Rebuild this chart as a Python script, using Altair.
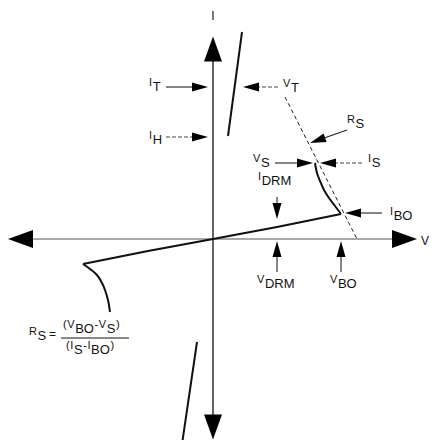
import altair as alt
import pandas as pd
import numpy as np

# ---------------- diagram data (V on x, I on y; origin = axes crossing) ----------------
# blocking characteristic through the origin (1st and 3rd quadrant)
block_v = [-130, -65, 0, 64, 128]
block_i = [-25, -12, 0, 12, 25]
# negative-resistance region after breakover, 1st quadrant
negres1_v = [128, 122, 116, 111, 107, 104, 102]
negres1_i = [25, 33, 41, 49, 58, 66, 76]
# negative-resistance region, 3rd quadrant
negres3_v = [-130, -123, -116, -111, -108, -105, -103]
negres3_i = [-25, -30, -36, -44, -51, -61, -73]
# on-state lines
on1_v = [15, 29]
on1_i = [103, 207]
on3_v = [-16, -32]
on3_i = [-103, -212]
# switching resistance RS line (dashed)
rs_v = [72, 144]
rs_i = [142, 0]

# axes extents
haxis_v = [-185, 182]
vaxis_i = [-182, 182]
# axis arrowheads (centre v, centre i, direction angle)
axhead_v = [191.5, -192.5, 0, 0]
axhead_i = [0, 0, 190, -188]
axhead_ang = [0, 180, 270, 90]

# annotation arrows: tail -> tip
ann_names = ["IT", "IH", "VT", "RS", "VS", "IS", "IDRM", "IBO", "VDRM", "VBO"]
ann_tail_v = [-47, -47, 65, 134, 62, 149, 64, 169, 64, 128]
ann_tail_i = [152, 102, 152, 109, 76, 76, 42, 26, -33, -33]
ann_tip_v = [-5, -5, 30, 97, 100, 107, 64, 132, 64, 128]
ann_tip_i = [152, 102, 152, 96, 76, 76, 20, 26, -2, -2]
ann_dashed = [0, 1, 1, 0, 0, 1, 0, 0, 0, 0]

# labels: main letter, subscript, left x, subscript baseline
lab_main = ["I", "I", "V", "R", "V", "I", "I", "I", "V", "V"]
lab_sub = ["T", "H", "T", "S", "S", "S", "DRM", "BO", "DRM", "BO"]
lab_x = [-64, -64, 70, 134, 40, 155, 45, 177, 44, 117]
lab_y = [148, 95, 147, 111, 72, 72, 54, 19, -49, -49]

# ---------------- helpers ----------------
FM, FS, RAISE = 11, 13, 5.5
CW = {"(": 333, ")": 333, "-": 333, "=": 584, "V": 667, "B": 667, "O": 778,
      "S": 667, "I": 278, "R": 722, "T": 611, "H": 722, "D": 722, "M": 833}


def tw(t, fs):
    return sum(CW[c] for c in t) * fs / 1000.0


text_rows = []


def place(segs, x0, base):
    x = x0
    for t, lvl in segs:
        fs = FM if lvl == "m" else FS
        y = base + (RAISE if lvl == "m" else 0)
        text_rows.append(dict(x=x, y=y, t=t, fs=fs, al="left"))
        x += tw(t, fs) + 0.6
    return x


for m, s, x0, b in zip(lab_main, lab_sub, lab_x, lab_y):
    place([(m, "m"), (s, "s")], x0, b)

# formula  RS = (VBO-VS)/(IS-IBO)
place([("R", "m"), ("S", "s")], -184, -101)
text_rows.append(dict(x=-164, y=-99, t="=", fs=12, al="left"))
place([("(", "m"), ("V", "m"), ("BO", "s"), ("-", "m"), ("V", "m"), ("S", "s"), (")", "m")], -150, -94)
place([("(", "m"), ("I", "m"), ("S", "s"), ("-", "m"), ("I", "m"), ("BO", "s"), (")", "m")], -147, -115)
frac_v = [-152, -84]
frac_i = -99

# axis names
text_rows.append(dict(x=0, y=219, t="I", fs=12, al="center"))
text_rows.append(dict(x=208, y=-6, t="V", fs=12, al="left"))

# ---------------- scales ----------------
W, H = 422, 432
xs = alt.Scale(domain=[-205, 217], nice=False, zero=False)
ys = alt.Scale(domain=[-201, 231], nice=False, zero=False)

# axes lines
ax_df = pd.DataFrame([
    dict(x=haxis_v[0], x2=haxis_v[1], y=0, y2=0, c="#8c8c8c", w=1.5),
    dict(x=0, x2=0, y=vaxis_i[0], y2=vaxis_i[1], c="#222222", w=1.4),
])
axes = alt.Chart(ax_df).mark_rule().encode(
    x=alt.X("x:Q", scale=xs, axis=None), x2="x2:Q",
    y=alt.Y("y:Q", scale=ys, axis=None), y2="y2:Q",
    color=alt.Color("c:N", scale=None), strokeWidth=alt.StrokeWidth("w:Q", scale=None))

axh_df = pd.DataFrame(dict(x=axhead_v, y=axhead_i, a=axhead_ang))
axheads = alt.Chart(axh_df).mark_point(
    shape="M-1,-0.72L1,0L-1,0.72Z", size=625, filled=True, color="#000", opacity=1, strokeWidth=0
).encode(x=alt.X("x:Q", scale=xs, axis=None), y=alt.Y("y:Q", scale=ys, axis=None),
         angle=alt.Angle("a:Q", scale=None))


def curve_df(items):
    rows = []
    for name, vv, ii, sw in items:
        for k, (v, i) in enumerate(zip(vv, ii)):
            rows.append(dict(seg=name, o=k, v=v, i=i, w=sw))
    return pd.DataFrame(rows)


straight = alt.Chart(curve_df([("block", block_v, block_i, 2.2), ("on1", on1_v, on1_i, 2.0),
                               ("on3", on3_v, on3_i, 2.0)])).mark_line(color="#111").encode(
    x=alt.X("v:Q", scale=xs, axis=None), y=alt.Y("i:Q", scale=ys, axis=None),
    detail="seg:N", order="o:Q", strokeWidth=alt.StrokeWidth("w:Q", scale=None))
bent = alt.Chart(curve_df([("nr1", negres1_v, negres1_i, 2.0),
                           ("nr3", negres3_v, negres3_i, 2.0)])).mark_line(
    color="#111", interpolate="catmull-rom").encode(
    x=alt.X("v:Q", scale=xs, axis=None), y=alt.Y("i:Q", scale=ys, axis=None),
    detail="seg:N", order="o:Q", strokeWidth=alt.StrokeWidth("w:Q", scale=None))

dashed = alt.Chart(pd.DataFrame(dict(v=rs_v, i=rs_i))).mark_line(
    color="#222", strokeWidth=1, strokeDash=[4, 3]).encode(
    x=alt.X("v:Q", scale=xs, axis=None), y=alt.Y("i:Q", scale=ys, axis=None))

# annotation arrows
tv, ti = np.array(ann_tail_v, float), np.array(ann_tail_i, float)
pv, pi = np.array(ann_tip_v, float), np.array(ann_tip_i, float)
dv, di = pv - tv, pi - ti
L = np.hypot(dv, di)
uv, ui = dv / L, di / L
ang = (np.degrees(np.arctan2(-di, dv)) + 360) % 360
shaft_df = pd.DataFrame(dict(x=tv, y=ti, x2=pv - 12 * uv, y2=pi - 12 * ui,
                             d=["dash" if d else "solid" for d in ann_dashed]))
shafts_solid = alt.Chart(shaft_df[shaft_df.d == "solid"]).mark_rule(color="#222", strokeWidth=1.1).encode(
    x=alt.X("x:Q", scale=xs, axis=None), x2="x2:Q",
    y=alt.Y("y:Q", scale=ys, axis=None), y2="y2:Q")
shafts_dash = alt.Chart(shaft_df[shaft_df.d == "dash"]).mark_rule(
    color="#444", strokeWidth=1.1, strokeDash=[4, 2]).encode(
    x=alt.X("x:Q", scale=xs, axis=None), x2="x2:Q",
    y=alt.Y("y:Q", scale=ys, axis=None), y2="y2:Q")
head_df = pd.DataFrame(dict(x=pv - 8 * uv, y=pi - 8 * ui, a=ang))
heads = alt.Chart(head_df).mark_point(
    shape="M-1,-0.56L1,0L-1,0.56Z", size=256, filled=True, color="#000", opacity=1, strokeWidth=0
).encode(x=alt.X("x:Q", scale=xs, axis=None), y=alt.Y("y:Q", scale=ys, axis=None),
         angle=alt.Angle("a:Q", scale=None))

frac = alt.Chart(pd.DataFrame(dict(x=[frac_v[0]], x2=[frac_v[1]], y=[frac_i]))).mark_rule(
    color="#111", strokeWidth=1).encode(
    x=alt.X("x:Q", scale=xs, axis=None), x2="x2:Q", y=alt.Y("y:Q", scale=ys, axis=None))

tdf = pd.DataFrame(text_rows)
texts_l = alt.Chart(tdf[tdf.al == "left"]).mark_text(
    align="left", baseline="alphabetic", font="Liberation Sans", color="#111").encode(
    x=alt.X("x:Q", scale=xs, axis=None), y=alt.Y("y:Q", scale=ys, axis=None),
    text="t:N", size=alt.Size("fs:Q", scale=None))
texts_c = alt.Chart(tdf[tdf.al == "center"]).mark_text(
    align="center", baseline="alphabetic", font="Liberation Sans", color="#111").encode(
    x=alt.X("x:Q", scale=xs, axis=None), y=alt.Y("y:Q", scale=ys, axis=None),
    text="t:N", size=alt.Size("fs:Q", scale=None))

chart = alt.layer(axes, straight, bent, dashed, shafts_solid, shafts_dash, heads, axheads, frac,
                  texts_l, texts_c).properties(
    width=W, height=H, padding=0, background="white",
    autosize=alt.AutoSizeParams(type="none")
).configure_view(stroke=None)

chart.save("out.html", embed_options={"renderer": "svg", "actions": False})
